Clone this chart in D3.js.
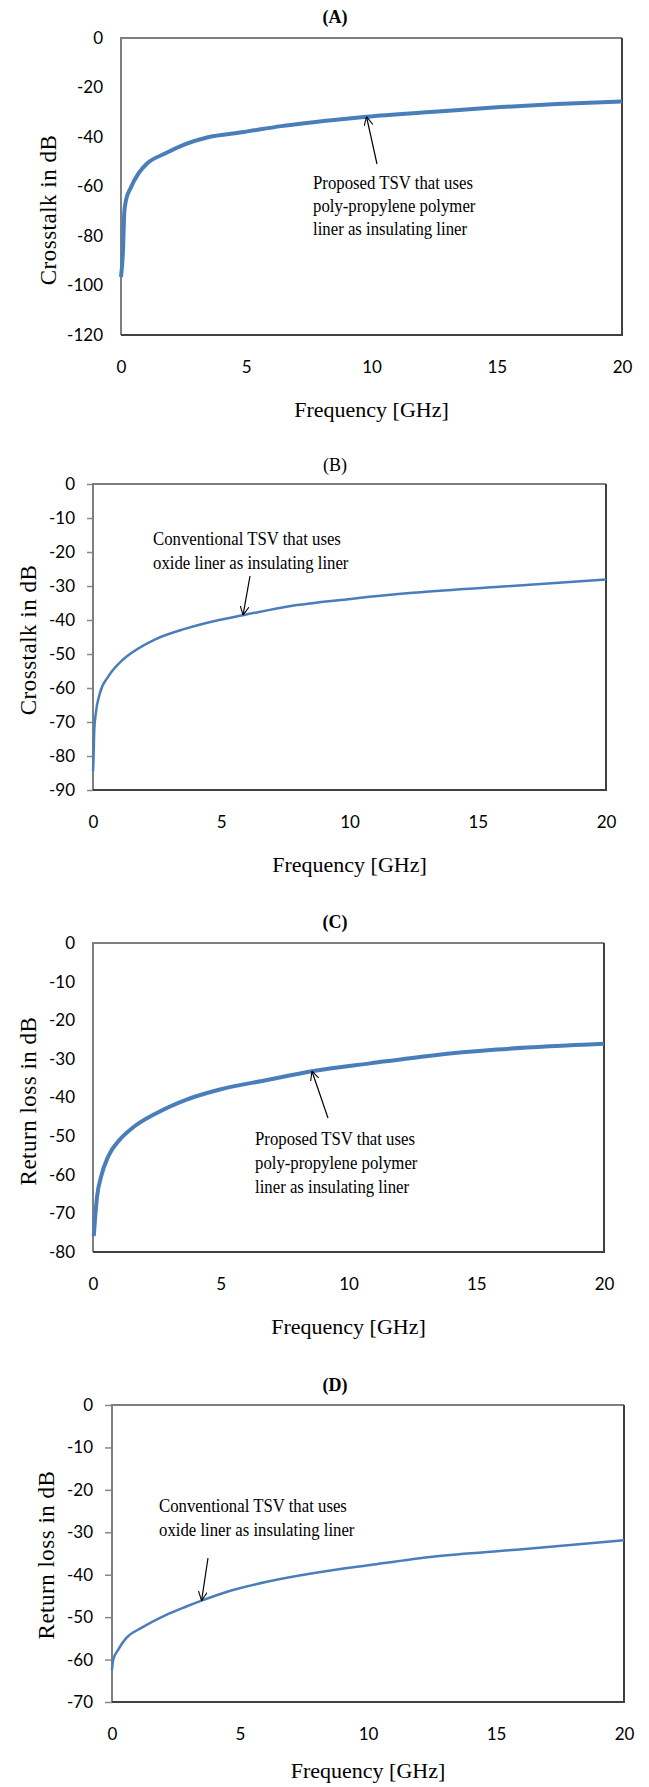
<!DOCTYPE html>
<html>
<head>
<meta charset="utf-8">
<script src="https://cdn.jsdelivr.net/npm/d3@7"></script>
<style>
  body { margin: 0; background: #fff; }
  .tick text { font-family: Lato, "Open Sans", sans-serif; fill: #000; }
  .serif { font-family: "Liberation Serif", "DejaVu Serif", serif; fill: #000; }
</style>
</head>
<body>
<div id="chart"></div>
<script>
// values
const freqA = [0, 0.08, 0.13, 0.2, 0.38, 0.7, 1.04, 1.78, 2.6, 3.43, 4.9, 6.4, 8.4, 9.8, 12.5, 15, 17.4, 20];
const crosstalkA = [-96.6, -85.7, -70.7, -65.5, -60.7, -54.7, -50.7, -46.6, -42.8, -40.2, -38.0, -35.6, -33.2, -31.8, -29.8, -28, -26.7, -25.7];

const freqB = [0, 0.02, 0.05, 0.11, 0.27, 0.6, 1.16, 1.5, 2.45, 3.58, 4.96, 5.84, 7.6, 10.04, 12.46, 15.7, 20];
const crosstalkB = [-84.5, -81, -72.3, -67.4, -61.5, -56.6, -51.7, -49.7, -45.6, -42.6, -39.9, -38.6, -36, -33.8, -32, -30.3, -28.1];

const freqC = [0.03, 0.11, 0.16, 0.32, 0.6, 1.05, 1.54, 2.5, 3.64, 4.93, 6.87, 8.57, 10.9, 13.3, 15.8, 20];
const returnLossC = [-75.9, -69, -65.6, -60.4, -55.2, -50.9, -47.9, -44, -40.6, -38, -35.4, -33.2, -31.1, -29.1, -27.6, -26.1];

const freqD = [0, 0.05, 0.24, 0.56, 1.13, 2.1, 2.9, 3.5, 4.5, 6.1, 7.9, 10.1, 12.6, 15.8, 20];
const returnLossD = [-62.4, -60, -57.7, -54.9, -52.6, -49.5, -47.5, -46.1, -44, -41.6, -39.6, -37.7, -35.7, -34.1, -31.9];

const xTicks = [0, 5, 10, 15, 20];
const yTicksA = [0, -20, -40, -60, -80, -100, -120];
const yTicksB = [0, -10, -20, -30, -40, -50, -60, -70, -80, -90];
const yTicksC = [0, -10, -20, -30, -40, -50, -60, -70, -80];
const yTicksD = [0, -10, -20, -30, -40, -50, -60, -70];

const titles = ["(A)", "(B)", "(C)", "(D)"];
const yTitles = ["Crosstalk in dB", "Crosstalk in dB", "Return loss in dB", "Return loss in dB"];
const notes = [
  ["Proposed TSV that uses", "poly-propylene polymer", "liner as insulating liner"],
  ["Conventional TSV that uses", "oxide liner as insulating liner"],
  ["Proposed  TSV  that uses", "poly-propylene polymer", "liner as insulating liner"],
  ["Conventional TSV that uses", "oxide liner  as insulating liner"]
];
const arrowAt = [9.8, 5.85, 8.57, 3.5];

// panel layout
const panels = [
  { x: freqA, y: crosstalkA, ticks: yTicksA, left: 121, right: 622, top: 38, bottom: 335, tick: 0, width: 4, xGap: 82,
    titleY: 23, titleBold: true, yTitleX: 48, yTitleY: 210, noteX: 313, noteY: 189, lineGap: 23, tail: [377, 164] },
  { x: freqB, y: crosstalkB, ticks: yTicksB, left: 93, right: 606, top: 484, bottom: 790, tick: 6, width: 2.5, xGap: 82,
    titleY: 471, titleBold: false, yTitleX: 28, yTitleY: 640, noteX: 153, noteY: 545, lineGap: 24, tail: [250, 576] },
  { x: freqC, y: returnLossC, ticks: yTicksC, left: 93, right: 604, top: 943, bottom: 1252, tick: 0, width: 4, xGap: 82,
    titleY: 928, titleBold: true, yTitleX: 28, yTitleY: 1101, noteX: 255, noteY: 1145, lineGap: 24, tail: [328, 1118] },
  { x: freqD, y: returnLossD, ticks: yTicksD, left: 112, right: 624, top: 1405, bottom: 1702, tick: 7, width: 2.5, xGap: 76,
    titleY: 1391, titleBold: true, yTitleX: 46, yTitleY: 1555, noteX: 159, noteY: 1512, lineGap: 24, tail: [208, 1558] }
];

const svg = d3.select("#chart").append("svg")
  .attr("width", 649)
  .attr("height", 1787);

svg.append("defs").append("marker")
  .attr("id", "head")
  .attr("viewBox", "0 0 10 10")
  .attr("refX", 10).attr("refY", 5)
  .attr("markerWidth", 9).attr("markerHeight", 9)
  .attr("markerUnits", "userSpaceOnUse")
  .attr("orient", "auto")
  .append("path")
  .attr("d", "M0,0 L10,5 L0,10")
  .attr("fill", "none")
  .attr("stroke", "#000")
  .attr("stroke-width", 1.2);

panels.forEach((p, i) => {
  const x = d3.scaleLinear().domain([0, 20]).range([p.left, p.right]);
  const y = d3.scaleLinear().domain([d3.min(p.ticks), 0]).range([p.bottom, p.top]);
  const g = svg.append("g").attr("class", "panel");

  // title
  g.append("text")
    .attr("class", "serif")
    .attr("x", 335).attr("y", p.titleY)
    .attr("text-anchor", "middle")
    .attr("font-size", 18)
    .attr("font-weight", p.titleBold ? "bold" : "normal")
    .text(titles[i]);

  // axes
  const ya = g.append("g")
    .attr("transform", `translate(${p.left},0)`)
    .call(d3.axisLeft(y).tickValues(p.ticks).tickSize(p.tick).tickSizeOuter(0).tickPadding(p.tick ? 12 : 18).tickFormat(d => String(d)));
  ya.select(".domain").remove();
  ya.selectAll(".tick line").attr("stroke", "#888").attr("stroke-width", 1.5);
  ya.selectAll("text").attr("font-size", 17);

  const xa = g.append("g")
    .attr("transform", `translate(0,${p.bottom})`)
    .call(d3.axisBottom(x).tickValues(xTicks).tickSize(0).tickPadding(26));
  xa.select(".domain").remove();
  xa.selectAll("text").attr("font-size", 17);

  // plot frame
  g.append("path")
    .attr("d", `M${p.left},${p.bottom} V${p.top} H${p.right}`)
    .attr("fill", "none").attr("stroke", "#7f7f7f").attr("stroke-width", 2);
  g.append("path")
    .attr("d", `M${p.right},${p.top} V${p.bottom} H${p.left}`)
    .attr("fill", "none").attr("stroke", "#404040").attr("stroke-width", 2);

  // series line
  const line = d3.line()
    .x((d, k) => x(p.x[k]))
    .y(d => y(d))
    .curve(d3.curveMonotoneX);
  g.append("path")
    .datum(p.y)
    .attr("fill", "none")
    .attr("stroke", "#4a7ebb")
    .attr("stroke-width", p.width)
    .attr("d", line);

  // axis titles
  g.append("text")
    .attr("class", "serif")
    .attr("x", x(10)).attr("y", p.bottom + p.xGap)
    .attr("text-anchor", "middle")
    .attr("font-size", 22)
    .text("Frequency [GHz]");
  g.append("text")
    .attr("class", "serif")
    .attr("transform", `translate(${p.yTitleX + 8},${p.yTitleY}) rotate(-90)`)
    .attr("text-anchor", "middle")
    .attr("font-size", 23)
    .attr("letter-spacing", 0.5)
    .text(yTitles[i]);

  // annotation, slightly condensed like the original
  const note = g.append("text")
    .attr("class", "serif")
    .attr("transform", `translate(${p.noteX},${p.noteY}) scale(0.86,1)`)
    .attr("font-size", 19.5);
  notes[i].forEach((s, k) => {
    note.append("tspan")
      .attr("x", 0)
      .attr("y", k * p.lineGap)
      .text(s);
  });
  const hx = x(arrowAt[i]);
  const hy = y(d3.scaleLinear().domain(p.x).range(p.y)(arrowAt[i]));
  g.append("line")
    .attr("x1", p.tail[0]).attr("y1", p.tail[1])
    .attr("x2", hx).attr("y2", hy)
    .attr("stroke", "#000").attr("stroke-width", 1.2)
    .attr("marker-end", "url(#head)");
});
</script>
</body>
</html>
